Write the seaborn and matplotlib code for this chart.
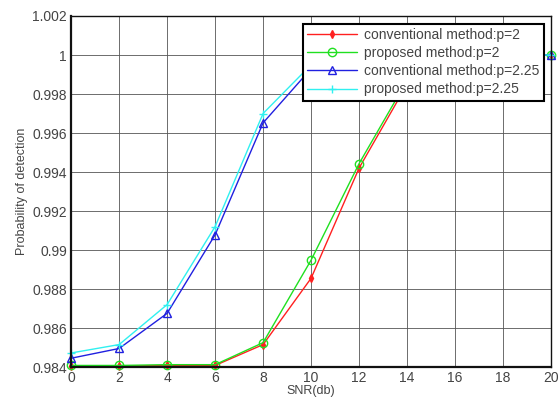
import matplotlib
matplotlib.use("Agg")
import matplotlib.pyplot as plt
import seaborn as sns
import pandas as pd
from matplotlib.ticker import FuncFormatter

snr = [0, 2, 4, 6, 8, 10, 12, 14, 16, 18, 20]
conv_p2 = [0.98405, 0.98405, 0.98408, 0.98408, 0.98515, 0.98855, 0.9942, 0.9985, 1.0, 1.0, 1.0]
prop_p2 = [0.98408, 0.98408, 0.98412, 0.98412, 0.98525, 0.98948, 0.99443, 0.9987, 1.0, 1.0, 1.0]
conv_p225 = [0.98445, 0.98495, 0.98675, 0.99078, 0.99652, 0.9993, 1.0, 1.0, 1.0, 1.0, 1.0]
prop_p225 = [0.98472, 0.98515, 0.9872, 0.9912, 0.9970, 0.9995, 1.0, 1.0, 1.0, 1.0, 1.0]

labels = ["conventional method:p=2", "proposed method:p=2",
          "conventional method:p=2.25", "proposed method:p=2.25"]
series = [conv_p2, prop_p2, conv_p225, prop_p225]

df = pd.DataFrame({
    "SNR": snr * 4,
    "Pd": sum(series, []),
    "method": sum([[l] * len(snr) for l in labels], []),
})

sns.set_style("white")
plt.rcParams['font.family'] = ['Liberation Sans', 'DejaVu Sans']

fig = plt.figure(figsize=(5.6, 4.03), dpi=100)
ax = fig.add_axes([0.127, 0.0893, 0.857, 0.871])

colors = ["#ff2020", "#20e020", "#2020e0", "#30f0f0"]
styles = [dict(marker="d", markersize=4, mfc="#ff2020"),
          dict(marker="o", markersize=6, mfc="none"),
          dict(marker="^", markersize=6, mfc="none"),
          dict(marker="+", markersize=6)]

for lab, col, st in zip(labels, colors, styles):
    sub = df[df["method"] == lab]
    sns.lineplot(data=sub, x="SNR", y="Pd", ax=ax, color=col, linewidth=1.0,
                 label=lab, clip_on=False, mec=col, mew=1.0, **st)

ax.set_xlim(0, 20)
ax.set_ylim(0.984, 1.002)
ax.set_xticks(range(0, 21, 2))
ax.set_yticks([0.984 + 0.002 * i for i in range(10)])
ax.yaxis.set_major_formatter(FuncFormatter(lambda v, p: "%g" % round(v, 3)))
ax.grid(True, color="#555555", linewidth=0.6)
ax.tick_params(direction="in", length=4, labelsize=10, colors="#222222", labelcolor="#444444", pad=3)
for s in ax.spines.values():
    s.set_color("#111111")
    s.set_linewidth(1.0)
ax.spines["left"].set_linewidth(1.6)
ax.spines["bottom"].set_linewidth(1.6)
ax.set_xlabel("SNR(db)", fontsize=9, color="#444444", labelpad=0)
ax.set_ylabel("Probability of detection", fontsize=9, color="#444444", labelpad=3)

leg = ax.legend(loc="upper right", bbox_to_anchor=(0.985, 0.978), fontsize=10,
                frameon=True, fancybox=False, edgecolor="black", framealpha=1,
                borderpad=0.3, labelspacing=0.3, handlelength=3.6, handletextpad=0.5,
                borderaxespad=0)
leg.get_frame().set_linewidth(1.5)
for t in leg.get_texts():
    t.set_color("#444444")

fig.savefig("out.png", dpi=100)
